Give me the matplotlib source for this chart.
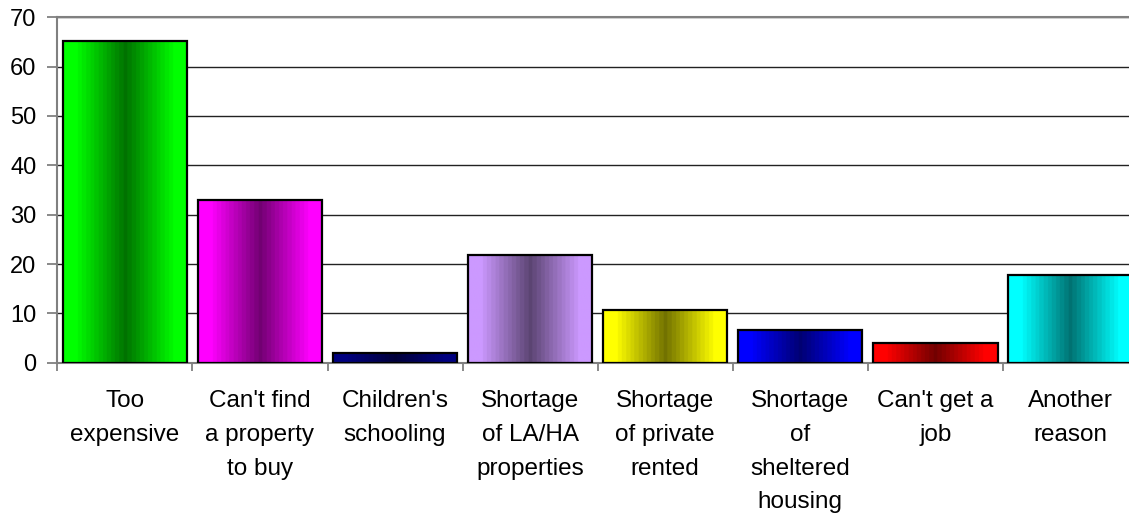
import numpy as np
import matplotlib
matplotlib.use("Agg")
import matplotlib.pyplot as plt
from matplotlib.colors import to_rgb

plt.rcParams['font.family'] = ['Liberation Sans', 'DejaVu Sans']

categories = ["Too\nexpensive", "Can't find\na property\nto buy", "Children's\nschooling",
              "Shortage\nof LA/HA\nproperties", "Shortage\nof private\nrented",
              "Shortage\nof\nsheltered\nhousing", "Can't get a\njob", "Another\nreason"]
values = [65.1, 33.0, 2.0, 21.8, 10.7, 6.6, 3.9, 17.7]
colors = ["#00FF00", "#FF00FF", "#000080", "#CC99FF", "#FFFF00", "#0000FF", "#FF0000", "#00FFFF"]

W, H = 1129, 518
fig = plt.figure(figsize=(W / 100, H / 100), dpi=100)
left, right, top, bottom = 57.3, 1129, 17.3, 362.7
ax = fig.add_axes([left / W, 1 - bottom / H, (right - left) / W, (bottom - top) / H])

x = np.arange(len(values))
bw = 0.92
bars = ax.bar(x, values, width=bw, facecolor='none', edgecolor='black', linewidth=1.6, zorder=3)

# gradient fill: bright at edges, dark at centre
n = 200
t = np.linspace(-1, 1, n)
prof = np.abs(t)
prof = np.clip(prof / 0.8, 0, 1)
prof = np.round(prof * 12) / 12
for xi, v, c, b in zip(x, values, colors, bars):
    bright = np.array(to_rgb(c))
    dark = bright * 0.45
    img = dark[None, :] + (bright - dark)[None, :] * prof[:, None]
    img = img[None, :, :]
    im = ax.imshow(img, extent=(xi - bw / 2, xi + bw / 2, 0, v), aspect='auto',
                   interpolation='bilinear', zorder=2)
    im.set_clip_path(b)

ax.set_xlim(-0.5, -0.5 + (right - left) / 135.1)
ax.set_ylim(0, 70)
ax.set_yticks(np.arange(0, 71, 10))
ax.yaxis.grid(True, color='#222222', linewidth=1.0, zorder=0)
ax.set_axisbelow(True)

for s in ['left', 'top', 'bottom']:
    ax.spines[s].set_color('#808080')
    ax.spines[s].set_linewidth(1.5)
ax.spines['right'].set_visible(False)

ax.set_xticks(x)
ax.set_xticklabels(categories, fontsize=17.5, linespacing=1.68, va='top', ha='center')
ax.tick_params(axis='x', which='major', length=0, pad=20)
ax.set_xticks(np.arange(-0.5, 7.0, 1.0), minor=True)
ax.tick_params(axis='x', which='minor', length=6, width=1.3, color='#808080', direction='out')
ax.tick_params(axis='y', length=7, width=1.3, color='#808080', labelsize=17, pad=8)

fig.savefig("out.png", dpi=100)
